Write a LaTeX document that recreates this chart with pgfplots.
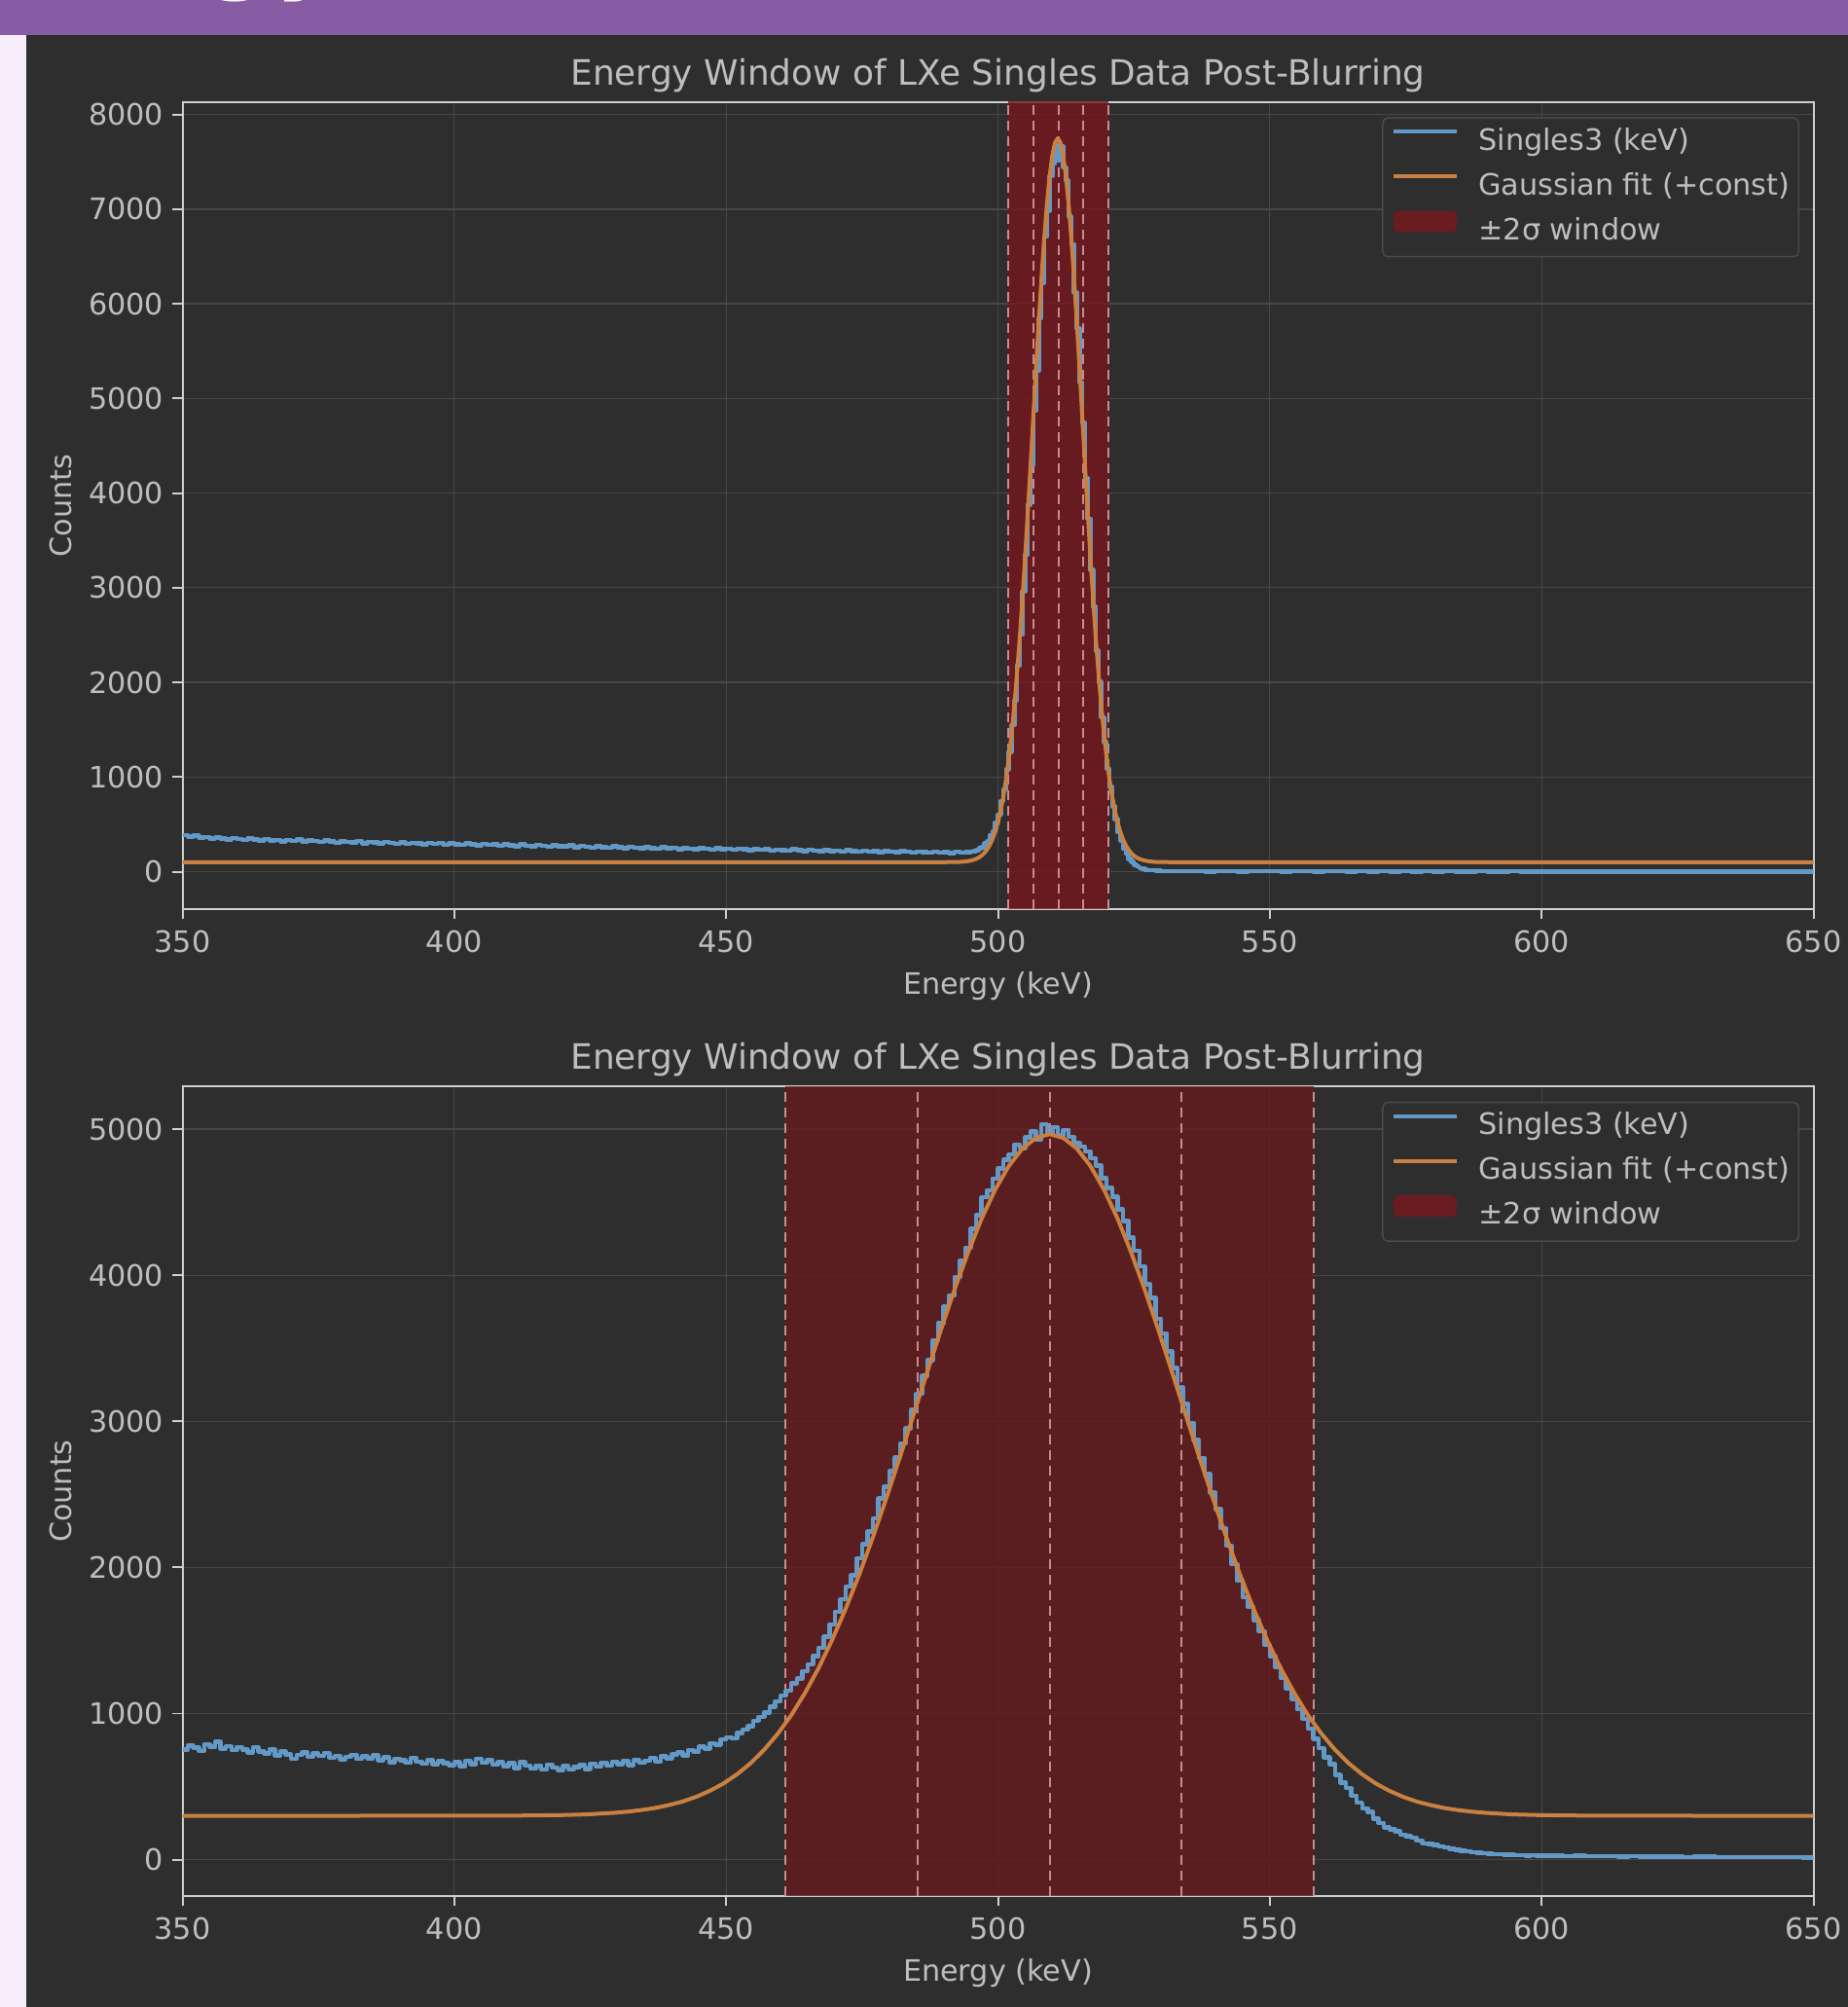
\documentclass[border=0pt]{standalone}
\usepackage{fontspec}
\setmainfont{DejaVu Sans}
\usepackage{pgfplots}
\pgfplotsset{compat=1.18}

\definecolor{figbg}{HTML}{2E2E2E}
\definecolor{banner}{HTML}{875CA5}
\definecolor{lav}{HTML}{F5EEFA}
\definecolor{spine}{HTML}{CFCFCF}
\definecolor{ticktext}{HTML}{BEBEBE}
\definecolor{gridc}{HTML}{474747}
\definecolor{cblue}{HTML}{6399C6}
\definecolor{corange}{HTML}{C98040}
\definecolor{wintop}{RGB}{118,22,29}
\definecolor{winbot}{RGB}{101,26,30}
\definecolor{winleg}{HTML}{6A1C20}
\definecolor{dashc}{HTML}{C98A90}
\definecolor{legedge}{HTML}{4A4A4A}

\pgfplotsset{
  panel/.style={
    scale only axis, width=670.4pt,
    xmin=350, xmax=650,
    xtick={350,400,450,500,550,600,650},
    axis line style={spine, line width=0.8pt},
    every tick/.style={spine, line width=0.8pt},
    tick align=outside, xtick pos=bottom, ytick pos=left,
    major tick length=4.2pt,
    grid=major, major grid style={gridc, line width=0.5pt},
    tick label style={font=\fontsize{12.1}{14}\selectfont, text=ticktext},
    xticklabel style={yshift=-1.4pt},
    /pgf/number format/assume math mode=true,
    /pgf/number format/1000 sep={},
    scaled y ticks=false,
    xlabel={Energy (keV)}, ylabel={Counts},
    every axis x label/.style={at={(0.5,0)}, anchor=base, yshift=-35.2pt},
    every axis y label/.style={at={(-0.068,0.5)}, anchor=base, rotate=90},
    label style={font=\fontsize{12.1}{14}\selectfont, text=ticktext},
    title={Energy Window of LXe Singles Data Post-Blurring},
    every axis title/.style={at={(0.5,1)}, anchor=base, yshift=7.0pt},
    title style={font=\fontsize{14.35}{17}\selectfont, text=ticktext},
    legend cell align=left,
    legend style={at={(1,1)}, anchor=north east, xshift=-5.8pt, yshift=-6.2pt,
      fill=figbg, draw=legedge, line width=0.6pt, rounded corners=2pt,
      text=ticktext, font=\fontsize{12.1}{14}\selectfont,
      inner xsep=3.6pt, inner ysep=4.4pt, row sep=7.0pt, column sep=8.2pt,
      nodes={inner sep=0pt, text height=8.8pt, text depth=2.6pt}},
    legend image code/.code={\draw[#1, line width=1.6pt] (0pt,4.5pt) -- (26pt,4.5pt);},
  }
}

\pgfplotstableread{
x y
350 388
351 371
352 379
353 360
354 366
355 349
356 361
357 352
358 340
359 357
360 343
361 336
362 350
363 339
364 328
365 344
366 330
367 337
368 322
369 335
370 326
371 341
372 318
373 329
374 323
375 312
376 330
377 317
378 306
379 321
380 313
381 307
382 325
383 300
384 316
385 309
386 297
387 314
388 303
389 296
390 308
391 293
392 305
393 299
394 287
395 302
396 294
397 306
398 285
399 298
400 291
401 283
402 299
403 288
404 280
405 294
406 282
407 290
408 274
409 287
410 280
411 270
412 288
413 275
414 268
415 281
416 272
417 264
418 279
419 270
420 266
421 276
422 260
423 271
424 263
425 255
426 270
427 259
428 252
429 266
430 257
431 250
432 264
433 253
434 246
435 258
436 249
437 243
438 257
439 246
440 251
441 239
442 250
443 244
444 236
445 249
446 240
447 234
448 246
449 237
450 241
451 231
452 244
453 235
454 227
455 239
456 230
457 237
458 224
459 233
460 229
461 222
462 235
463 226
464 219
465 230
466 223
467 216
468 228
469 219
470 224
471 214
472 226
473 217
474 210
475 221
476 213
477 219
478 207
479 216
480 214
481 206
482 218
483 209
484 202
485 212
486 205
487 199
488 211
489 203
490 207
491 198
492 210
493 201
494 208
495 212
495.5 219
496 225
496.5 250
497 258
497.5 300
498 318
498.5 385
499 428
499.5 520
500 602
500.5 745
501 870
501.5 1080
502 1265
502.5 1550
503 1810
503.5 2180
504 2505
504.5 2960
505 3350
505.5 3880
506 4300
506.5 4870
507 5290
507.5 5850
508 6220
508.5 6710
509 6980
509.5 7350
510 7480
510.5 7680
511 7520
511.5 7660
512 7440
512.5 7300
513 6920
513.5 6630
514 6120
514.5 5740
515 5170
515.5 4740
516 4160
516.5 3730
517 3190
517.5 2800
518 2335
518.5 2005
519 1630
519.5 1370
520 1085
520.5 895
521 690
521.5 556
522 418
522.5 332
523 240
523.5 190
524 133
524.5 105
525 72
525.5 55
526 38
526.5 30
527 22
527.5 18
528 14
529 10
530 8
532 6
534 4
536 7
538 3
540 5
542 6
544 2
546 5
548 4
550 6
552 3
554 5
556 4
558 2
560 5
562 4
564 3
566 6
568 2
570 4
572 3
574 5
576 2
578 4
580 3
582 5
584 2
586 3
588 4
590 2
592 3
594 4
596 2
598 3
600 2
604 3
608 2
612 3
616 1
620 2
624 3
628 1
632 2
636 2
640 1
644 2
648 1
650 1
}\topblue

\pgfplotstableread{
x y
350 100
490 100.4
493 103
494 108
495 117
496 135
496.5 150
497 170
497.5 197
498 234
498.5 282
499 344
499.5 423
500 522
500.5 646
501 798
501.5 981
502 1200
502.5 1456
503 1753
503.5 2090
504 2467
504.5 2882
505 3331
505.5 3808
506 4304
506.5 4811
507 5316
507.5 5805
508 6267
508.5 6687
509 7052
509.5 7349
510 7569
510.5 7704
511 7750
511.5 7704
512 7569
512.5 7349
513 7052
513.5 6687
514 6267
514.5 5805
515 5316
515.5 4811
516 4304
516.5 3808
517 3331
517.5 2882
518 2467
518.5 2090
519 1753
519.5 1456
520 1200
520.5 981
521 798
521.5 646
522 522
522.5 423
523 344
523.5 282
524 234
524.5 197
525 170
525.5 150
526 135
527 117
528 108
529 103
532 100.4
650 100
}\toporange

\pgfplotstableread{
x y
350 752
351 781
352 768
353 745
354 790
355 772
356 806
357 761
358 778
359 749
360 771
361 752
362 733
363 769
364 741
365 728
366 755
367 712
368 740
369 719
370 690
371 716
372 735
373 704
374 726
375 709
376 731
377 698
378 711
379 686
380 703
381 718
382 689
383 707
384 695
385 712
386 681
387 700
388 667
389 691
390 679
391 664
392 696
393 671
394 657
395 680
396 652
397 673
398 660
399 648
400 668
401 641
402 677
403 655
404 690
405 662
406 679
407 650
408 666
409 641
410 659
411 628
412 667
413 645
414 622
415 641
416 617
417 650
418 629
419 612
420 640
421 618
422 634
423 647
424 621
425 656
426 637
427 662
428 644
429 671
430 653
431 675
432 648
433 681
434 663
435 677
436 696
437 671
438 708
439 694
440 721
441 733
442 712
443 751
444 739
445 772
446 760
447 796
448 788
449 822
450 838
451 829
452 866
453 889
454 912
455 951
456 977
457 1008
458 1046
459 1083
460 1124
461 1158
462 1207
463 1239
464 1291
465 1338
466 1392
467 1451
468 1526
469 1611
470 1697
471 1782
472 1868
473 1947
474 2062
475 2158
476 2247
477 2336
478 2471
479 2552
480 2660
481 2751
482 2847
483 2952
484 3077
485 3188
486 3311
487 3419
488 3556
489 3671
490 3787
491 3862
492 3988
493 4101
494 4189
495 4318
496 4412
497 4535
498 4581
499 4662
500 4731
501 4789
502 4826
503 4893
504 4871
505 4944
506 4985
507 4931
508 5033
509 4968
510 5012
511 4957
512 4995
513 4948
514 4905
515 4879
516 4846
517 4802
518 4751
519 4664
520 4597
521 4538
522 4449
523 4372
524 4257
525 4169
526 4062
527 3938
528 3846
529 3702
530 3601
531 3478
532 3366
533 3231
534 3118
535 2989
536 2871
537 2749
538 2638
539 2512
540 2398
541 2269
542 2148
543 2022
544 1908
545 1797
546 1729
547 1641
548 1563
549 1470
550 1392
551 1318
552 1242
553 1169
554 1101
555 1031
556 962
557 896
558 826
559 763
560 699
561 655
562 579
563 527
564 492
565 438
566 389
567 351
568 327
569 281
570 252
571 221
572 207
573 195
574 172
575 160
576 150
577 131
578 112
579 108
580 100
581 91
582 85
583 74
584 68
585 62
586 58
587 50
588 47
589 44
590 42
591 39
592 37
593 34
594 35
595 32
596 31
597 29
598 30
599 27
600 28
602 26
604 25
606 27
608 24
610 23
612 25
614 22
616 23
618 21
620 22
622 20
624 21
626 19
628 21
630 20
632 18
634 19
636 17
638 18
640 17
642 16
644 17
646 16
648 15
650 16
}\botblue

\pgfplotstableread{
x y
350 300
409.5 301
419.5 305
424.5 310
429.5 321
432 329
434.5 340
437 354
439.5 374
442 398
444.5 430
447 471
449.5 521
452 584
454.5 660
457 752
459.5 862
462 990
464.5 1140
467 1311
469.5 1504
472 1718
474.5 1953
477 2207
479.5 2477
482 2759
484.5 3048
487 3339
489.5 3625
492 3900
494.5 4156
497 4387
499.5 4586
502 4748
504.5 4867
507 4940
509.5 4965
512 4940
514.5 4867
517 4748
519.5 4586
522 4387
524.5 4156
527 3900
529.5 3625
532 3339
534.5 3048
537 2759
539.5 2477
542 2207
544.5 1953
547 1718
549.5 1504
552 1311
554.5 1140
557 990
559.5 862
562 752
564.5 660
567 584
569.5 521
572 471
574.5 430
577 398
579.5 374
582 354
584.5 340
587 329
589.5 321
594.5 310
599.5 305
609.5 301
650 300
}\botorange

\begin{document}
\begin{tikzpicture}
% page background
\fill[figbg] (0pt,0pt) rectangle (759.6pt,824.8pt);
\fill[lav] (0pt,0pt) rectangle (10.8pt,810.4pt);
\fill[banner] (0pt,810.4pt) rectangle (759.6pt,824.8pt);
\begin{scope}
\clip (0pt,810.4pt) rectangle (759.6pt,824.8pt);
\node[anchor=base west, inner sep=0pt, text=white, font=\fontsize{40}{44}\selectfont\bfseries] at (84pt,832.6pt) {gy};
\end{scope}

% top panel
\begin{axis}[panel, at={(75pt,451.32pt)}, anchor=south west, height=331.48pt,
  ymin=-392, ymax=8130, ytick={0,1000,2000,3000,4000,5000,6000,7000,8000}]
\addplot[draw=none, fill=wintop, fill opacity=0.8, forget plot]
  coordinates {(501.9,-1000) (520.3,-1000) (520.3,9000) (501.9,9000) (501.9,-1000)};
\addplot[dashc, line width=0.8pt, dash pattern=on 4pt off 2.4pt, forget plot] coordinates {(501.9,-392) (501.9,8130)};
\addplot[dashc, line width=0.8pt, dash pattern=on 4pt off 2.4pt, forget plot] coordinates {(506.5,-392) (506.5,8130)};
\addplot[dashc, line width=0.8pt, dash pattern=on 4pt off 2.4pt, forget plot] coordinates {(511.1,-392) (511.1,8130)};
\addplot[dashc, line width=0.8pt, dash pattern=on 4pt off 2.4pt, forget plot] coordinates {(515.7,-392) (515.7,8130)};
\addplot[dashc, line width=0.8pt, dash pattern=on 4pt off 2.4pt, forget plot] coordinates {(520.3,-392) (520.3,8130)};
\addplot[cblue, line width=1.8pt, const plot, line join=round] table {\topblue};
\addlegendentry{Singles3 (keV)}
\addplot[corange, line width=1.6pt, line join=round] table {\toporange};
\addlegendentry{Gaussian fit (+const)}
\addlegendimage{legend image code/.code={\fill[winleg, draw=none, overlay] (0pt,0pt) rectangle (26pt,8.7pt); \path[draw=none, fill=none] (0pt,3.7pt) rectangle (26pt,5.3pt);}}
\addlegendentry{±2σ window}
\end{axis}

% bottom panel
\begin{axis}[panel, at={(75pt,45.72pt)}, anchor=south west, height=332.48pt,
  ymin=-247, ymax=5290, ytick={0,1000,2000,3000,4000,5000}]
\addplot[draw=none, fill=winbot, fill opacity=0.8, forget plot]
  coordinates {(460.9,-1000) (558.1,-1000) (558.1,6000) (460.9,6000) (460.9,-1000)};
\addplot[dashc, line width=0.8pt, dash pattern=on 4pt off 2.4pt, forget plot] coordinates {(460.9,-247) (460.9,5290)};
\addplot[dashc, line width=0.8pt, dash pattern=on 4pt off 2.4pt, forget plot] coordinates {(485.2,-247) (485.2,5290)};
\addplot[dashc, line width=0.8pt, dash pattern=on 4pt off 2.4pt, forget plot] coordinates {(509.5,-247) (509.5,5290)};
\addplot[dashc, line width=0.8pt, dash pattern=on 4pt off 2.4pt, forget plot] coordinates {(533.8,-247) (533.8,5290)};
\addplot[dashc, line width=0.8pt, dash pattern=on 4pt off 2.4pt, forget plot] coordinates {(558.1,-247) (558.1,5290)};
\addplot[cblue, line width=1.8pt, const plot, line join=round] table {\botblue};
\addlegendentry{Singles3 (keV)}
\addplot[corange, line width=1.6pt, line join=round] table {\botorange};
\addlegendentry{Gaussian fit (+const)}
\addlegendimage{legend image code/.code={\fill[winleg, draw=none, overlay] (0pt,0pt) rectangle (26pt,8.7pt); \path[draw=none, fill=none] (0pt,3.7pt) rectangle (26pt,5.3pt);}}
\addlegendentry{±2σ window}
\end{axis}

\pgfresetboundingbox
\path[use as bounding box] (0pt,0pt) rectangle (759.6pt,824.8pt);
\end{tikzpicture}
\end{document}
